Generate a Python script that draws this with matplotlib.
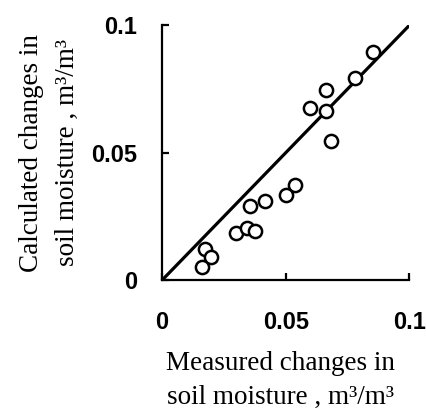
import matplotlib.pyplot as plt

# measured vs calculated changes in soil moisture (m3/m3)
measured = [0.0854, 0.0780, 0.0662, 0.0599, 0.0663, 0.0682, 0.0538, 0.0500,
            0.0417, 0.0354, 0.0300, 0.0343, 0.0378, 0.0175, 0.0198, 0.0161]
calculated = [0.0895, 0.0795, 0.0745, 0.0674, 0.0664, 0.0546, 0.0373, 0.0334,
              0.0312, 0.0291, 0.0187, 0.0204, 0.0195, 0.0125, 0.0093, 0.0051]
one_to_one = [0, 0.1]
ticks = [0, 0.05, 0.1]
tick_labels = ['0', '0.05', '0.1']

plt.rcParams['xtick.direction'] = 'in'
plt.rcParams['ytick.direction'] = 'in'

fig = plt.figure(figsize=(4.27, 4.13), dpi=100)
ax = fig.add_axes([0.379, 0.321, 0.580, 0.618])

ax.plot(one_to_one, one_to_one, color='black', lw=2.3, solid_capstyle='butt')
ax.plot(measured, calculated, 'o', ms=9.5, mfc='white', mec='black', mew=1.8)

ax.set_xlim(0, 0.1)
ax.set_ylim(0, 0.1)
ax.set_xticks(ticks)
ax.set_xticklabels(tick_labels)
ax.set_yticks(ticks)
ax.set_yticklabels(tick_labels)

for s in ['top', 'right']:
    ax.spines[s].set_visible(False)
for s in ['left', 'bottom']:
    ax.spines[s].set_linewidth(1.6)

ax.tick_params(axis='x', direction='in', length=5, width=1.6, pad=22,
               labelsize=17)
ax.tick_params(axis='y', direction='in', length=5, width=1.6, pad=18,
               labelsize=17)
for lab in ax.get_xticklabels() + ax.get_yticklabels():
    lab.set_fontfamily('Liberation Sans')
    lab.set_fontweight('bold')

ax.set_xlabel('Measured changes in\nsoil moisture , m\u00b3/m\u00b3',
              fontfamily='Liberation Serif', fontsize=19.5, linespacing=1.5)
ax.set_ylabel('Calculated changes in\nsoil moisture , m\u00b3/m\u00b3',
              fontfamily='Liberation Serif', fontsize=19.5, linespacing=1.6)
ax.xaxis.set_label_coords(0.478, -0.275)
ax.yaxis.set_label_coords(-0.33, 0.5)

fig.savefig('out.png', dpi=100)
